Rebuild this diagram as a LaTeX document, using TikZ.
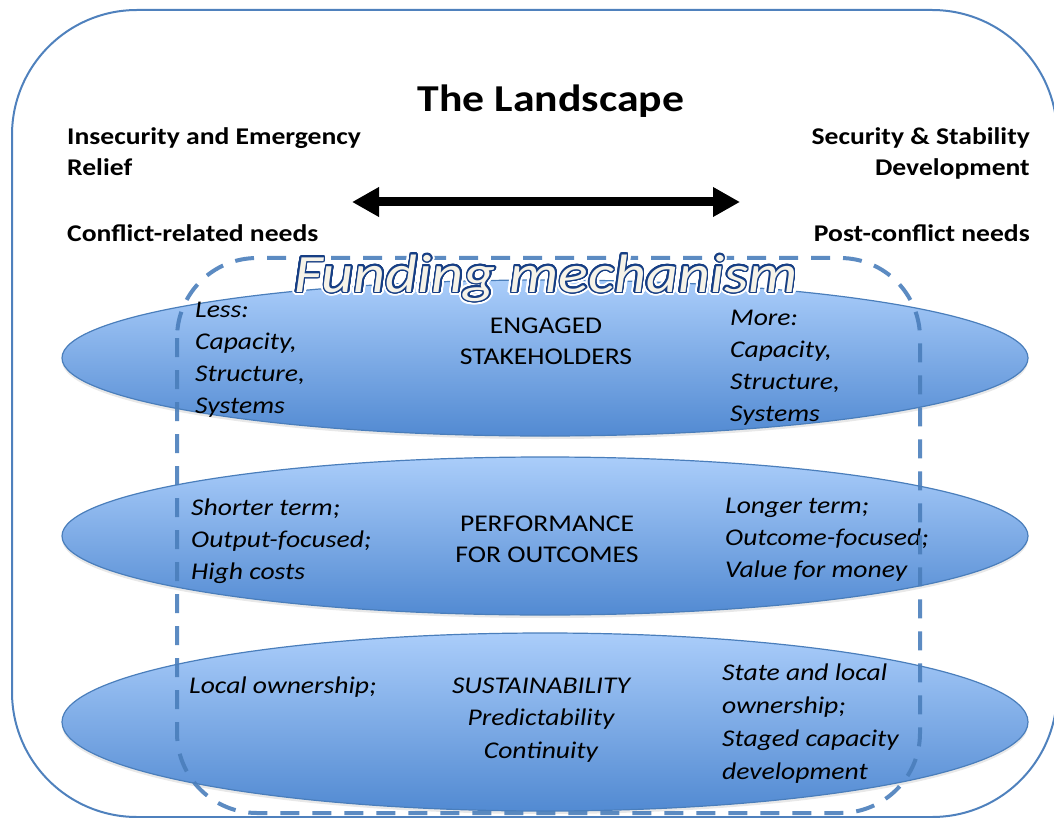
\documentclass[tikz,border=0pt]{standalone}
\usepackage{fontspec}
\setmainfont{Carlito}[FakeStretch=1.15]
\usepackage{contour}
\usetikzlibrary{shapes.geometric,arrows.meta,shadows}
\definecolor{framec}{RGB}{79,129,189}
\definecolor{elltop}{RGB}{170,205,250}
\definecolor{ellbot}{RGB}{82,138,210}
\definecolor{ellline}{RGB}{74,126,187}
\definecolor{dashc}{RGB}{74,126,187}
\definecolor{fmfill}{RGB}{246,243,232}
\definecolor{fmline}{RGB}{22,62,132}
\contournumber{24}
\begin{document}
\begin{tikzpicture}[x=1pt,y=-1pt,
  hdr/.style={inner sep=0pt, font=\fontsize{24}{31}\selectfont\bfseries},
  txt/.style={inner sep=0pt, anchor=base west, font=\fontsize{24}{32}\selectfont\itshape},
  ctr/.style={inner sep=0pt, anchor=base, font=\fontsize{24}{31}\selectfont},
  band/.style={ellipse, draw=ellline, line width=1.2pt, top color=elltop, bottom color=ellbot,
    minimum width=966pt, inner sep=0pt,
    drop shadow={shadow xshift=0pt, shadow yshift=-3pt, opacity=0.18}},
  fmstyle/.style={inner sep=0pt, anchor=base, font=\fontsize{54}{60}\selectfont\itshape},
]
\useasboundingbox (0,0) rectangle (1054,818);
% outer frame
\draw[framec, line width=2pt, rounded corners=125pt] (12,10) rectangle (1057,817);

% headings
\node[hdr, anchor=base] (title) at (551,112) {\fontsize{38}{46}\selectfont The Landscape};
\node[hdr, anchor=base west] (lefthead) at (67,145)
  {\begin{tabular}[t]{@{}l@{}}Insecurity and Emergency\\Relief\end{tabular}};
\node[hdr, anchor=base west] (leftneed) at (67,242) {Conflict-related needs};
\node[hdr, anchor=base east] (righthead) at (1030,145)
  {\begin{tabular}[t]{@{}r@{}}Security \& Stability\\Development\end{tabular}};
\node[hdr, anchor=base east] (rightneed) at (1030,242) {Post-conflict needs};

% double arrow
\coordinate (al) at (352,202);
\coordinate (ar) at (740,202);
\draw[line width=9pt, {Triangle[length=27pt,width=28pt]}-{Triangle[length=27pt,width=28pt]}] (al) -- (ar);

% bands
\node[band, minimum height=156pt] (e1) at (545,358) {};
\node[band, minimum height=158pt] (e2) at (545,536) {};
\node[band, minimum height=178pt] (e3) at (545,722) {};

% band 1 texts
\node[txt] (l1) at (195,317)
  {\begin{tabular}[t]{@{}l@{}}Less:\\Capacity,\\Structure,\\Systems\end{tabular}};
\node[ctr] (c1) at (546,333)
  {\begin{tabular}[t]{@{}c@{}}ENGAGED\\STAKEHOLDERS\end{tabular}};
\node[txt] (r1) at (730,325)
  {\begin{tabular}[t]{@{}l@{}}More:\\Capacity,\\Structure,\\Systems\end{tabular}};

% band 2 texts
\node[txt] (l2) at (191,515)
  {\begin{tabular}[t]{@{}l@{}}Shorter term;\\Output-focused;\\High costs\end{tabular}};
\node[ctr] (c2) at (547,531)
  {\begin{tabular}[t]{@{}c@{}}PERFORMANCE\\FOR OUTCOMES\end{tabular}};
\node[txt] (r2) at (725,513)
  {\begin{tabular}[t]{@{}l@{}}Longer term;\\Outcome-focused;\\Value for money\end{tabular}};

% band 3 texts
\node[txt] (l3) at (189,693) {Local ownership;};
\node[ctr, font=\fontsize{24}{32.5}\selectfont\itshape] (c3) at (541,693)
  {\begin{tabular}[t]{@{}c@{}}SUSTAINABILITY\\Predictability\\Continuity\end{tabular}};
\node[txt, font=\fontsize{24}{33}\selectfont\itshape] (r3) at (722,680)
  {\begin{tabular}[t]{@{}l@{}}State and local\\ownership;\\Staged capacity\\development\end{tabular}};

% funding mechanism dashed frame
\draw[dashc, opacity=0.9, line width=4pt, dash pattern=on 19pt off 13pt, rounded corners=80pt]
  (177,258) rectangle (920,813);

% funding mechanism title
\node[fmstyle, text=white] (fmhalo) at (546,292)
  {\contourlength{3.8pt}\contour{white}{Funding mechanism}};
\node[fmstyle, text=fmfill] (fm) at (546,292)
  {\contourlength{1.5pt}\contour{fmline}{Funding mechanism}};
\end{tikzpicture}
\end{document}
